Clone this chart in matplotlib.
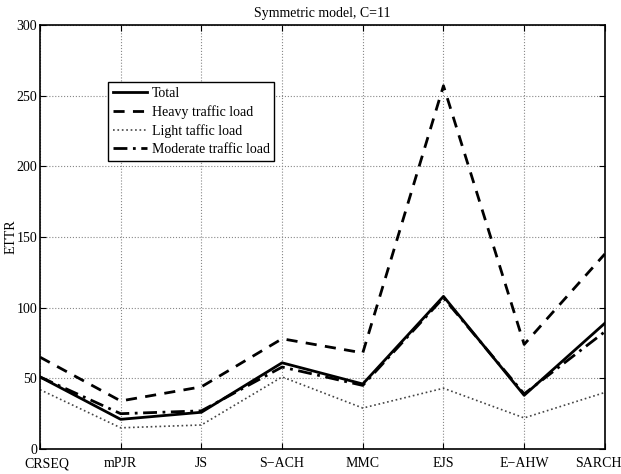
import numpy as np
import matplotlib.pyplot as plt
import matplotlib.transforms as mtransforms

plt.rcParams['font.family'] = ['Liberation Serif', 'DejaVu Serif']

schemes = ['CRSEQ', 'mPJR', 'JS', 'S\u2212ACH', 'MMC', 'EJS', 'E\u2212AHW', 'SARCH']
total = [51, 21, 26, 61, 46, 108, 38, 89]
heavy = [65, 34, 44, 78, 68, 257, 74, 138]
light = [42, 15, 17, 51, 29, 43, 22, 40]
moderate = [51, 25, 27, 58, 45, 107, 39, 83]

fig = plt.figure(figsize=(6.21, 4.74), dpi=100)
ax = fig.add_axes([0.0644, 0.0527, 0.9096, 0.8946])

x = np.arange(len(schemes))
ax.plot(x, total, '-', color='black', lw=2.0, label='Total')
ax.plot(x, heavy, '--', color='black', lw=2.0, dashes=(4, 3), label='Heavy traffic load')
ax.plot(x, light, ':', color='#444444', lw=1.2, label='Light taffic load')
ax.plot(x, moderate, '-.', color='black', lw=2.0, dashes=(5, 2, 1, 2), label='Moderate traffic load')

ax.set_xlim(0, len(schemes) - 1)
ax.set_ylim(0, 300)
ax.set_xticks(x)
ax.set_xticklabels(schemes, fontsize=10)
ax.set_yticks(np.arange(0, 301, 50))
ax.tick_params(labelsize=10, direction='in', top=True, right=True, length=4, pad=2)
ax.tick_params(axis='x', pad=6)

# end labels are pushed inside the figure, as in the original
labs = ax.get_xticklabels()
labs[0].set_transform(labs[0].get_transform() + mtransforms.ScaledTranslation(0.07, 0, fig.dpi_scale_trans))
labs[-1].set_transform(labs[-1].get_transform() + mtransforms.ScaledTranslation(-0.06, 0, fig.dpi_scale_trans))

ax.grid(True, linestyle=':', color='#888888', lw=0.8)
for s in ax.spines.values():
    s.set_linewidth(1.2)

ax.set_ylabel('ETTR', fontsize=10)
ax.yaxis.set_label_coords(-0.040, 0.5)
ax.set_title('Symmetric model, C=11', fontsize=10)

leg = ax.legend(loc='upper left', bbox_to_anchor=(0.120, 0.866), borderaxespad=0,
                fontsize=10, fancybox=False, framealpha=1, edgecolor='black',
                handlelength=2.5, handletextpad=0.3, borderpad=0.35, labelspacing=0.38)
leg.get_frame().set_linewidth(1.0)

fig.savefig('out.png', dpi=100)
